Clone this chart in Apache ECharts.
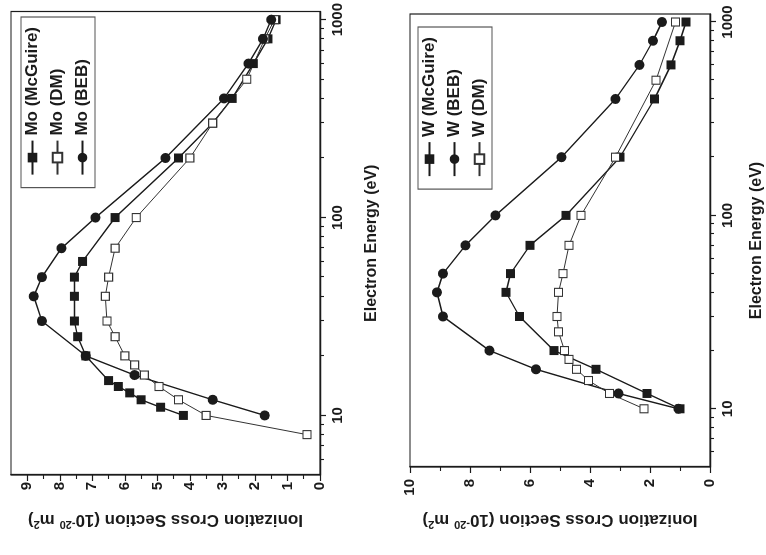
<!DOCTYPE html>
<html><head><meta charset="utf-8">
<script src="https://cdn.jsdelivr.net/npm/echarts@6/dist/echarts.min.js"></script>
<style>
html,body{margin:0;padding:0;width:766px;height:555px;overflow:hidden;background:#fff}
#chart{position:absolute;left:0;top:0;width:555px;height:766px;transform-origin:0 0;transform:translateY(555px) rotate(-90deg);}
</style></head><body><div id="chart"></div>
<script>
// ---- data (energies in eV, cross sections in 1e-20 m^2) ----
const moMcGuireE = [10,11,12,13,14,15,20,25,30,40,50,60,100,200,300,400,600,800,1000];
const moMcGuireV = [4.2,4.9,5.5,5.85,6.2,6.5,7.2,7.45,7.55,7.55,7.55,7.3,6.3,4.35,3.3,2.7,2.05,1.6,1.35];
const moDME = [8,10,12,14,16,18,20,25,30,40,50,70,100,200,300,500,800,1000];
const moDMV = [0.4,3.5,4.35,4.95,5.4,5.7,6.0,6.3,6.55,6.6,6.5,6.3,5.65,4.0,3.3,2.25,1.7,1.4];
const moBEBE = [10,12,16,20,30,40,50,70,100,200,400,600,800,1000];
const moBEBV = [1.7,3.3,5.7,7.2,8.55,8.8,8.55,7.95,6.9,4.75,2.95,2.2,1.75,1.5];

const wMcGuireE = [10,12,16,20,30,40,50,70,100,200,400,600,800,1000];
const wMcGuireV = [1.0,2.1,3.8,5.2,6.35,6.8,6.65,6.0,4.8,3.0,1.85,1.3,1.0,0.8];
const wBEBE = [10,12,16,20,30,40,50,70,100,200,400,600,800,1000];
const wBEBV = [1.05,3.05,5.8,7.35,8.9,9.1,8.9,8.15,7.15,4.95,3.15,2.35,1.9,1.6];
const wDME = [10,12,14,16,18,20,25,30,40,50,70,100,200,500,1000];
const wDMV = [2.2,3.35,4.05,4.45,4.7,4.85,5.05,5.1,5.05,4.9,4.7,4.3,3.15,1.8,1.15];

const energyMajorTicks = [10,100,1000];
const energyMinorTicks = [6,7,8,9,20,30,40,50,60,70,80,90,200,300,400,500,600,700,800,900];
const moYTicks = [0,1,2,3,4,5,6,7,8,9];
const moYMinor = [0.5,1.5,2.5,3.5,4.5,5.5,6.5,7.5,8.5];
const wYTicks = [0,2,4,6,8,10];
const wYMinor = [1,3,5,7,9];

const moNames = ['Mo (McGuire)','Mo (DM)','Mo (BEB)'];
const wNames = ['W (McGuire)','W (BEB)','W (DM)'];
const xName = 'Electron Energy (eV)';

// ---- style ----
const FONT = '"Liberation Sans", Arial, Helvetica, sans-serif';
const INK = '#1b1b1b';
const zip = (e, v) => e.map((x, i) => [x, v[i]]);

function xAxes(grid, gap) {
  return [{
    type: 'log', logBase: 10, gridIndex: grid, min: 5, max: 1100, position: 'bottom',
    name: xName, nameLocation: 'middle', nameGap: gap,
    nameTextStyle: {fontFamily: FONT, fontWeight: 'bold', fontSize: 16, color: INK},
    axisLine: {show: true, onZero: false, lineStyle: {color: INK, width: 1.3}},
    axisTick: {show: true, length: 6, customValues: energyMajorTicks, lineStyle: {color: INK, width: 1.2}},
    axisLabel: {show: true, customValues: energyMajorTicks, margin: 10, formatter: v => String(Math.round(v)),
      fontFamily: FONT, fontWeight: 'bold', fontSize: 15, color: INK},
    splitLine: {show: false}, minorTick: {show: false}
  }, {
    type: 'log', logBase: 10, gridIndex: grid, min: 5, max: 1100, position: 'bottom',
    axisLine: {show: false}, axisLabel: {show: false}, splitLine: {show: false},
    axisTick: {show: true, length: 4, customValues: energyMinorTicks, lineStyle: {color: INK, width: 1.1}}
  }];
}
function yAxes(grid, max, ticks, minor, gap, margin) {
  return [{
    type: 'value', gridIndex: grid, min: 0, max: max, position: 'left',
    name: '{a|Ionization Cross Section (10}{s|-20}{a| m}{s|2}{a|)}', nameLocation: 'middle', nameGap: gap,
    nameTextStyle: {rich: {
      a: {fontFamily: FONT, fontWeight: 'bold', fontSize: 17, color: INK, lineHeight: 20},
      s: {fontFamily: FONT, fontWeight: 'bold', fontSize: 11, color: INK, lineHeight: 12, verticalAlign: 'top'}
    }},
    axisLine: {show: true, onZero: false, lineStyle: {color: INK, width: 1.3}},
    axisTick: {show: true, length: 6, customValues: ticks, lineStyle: {color: INK, width: 1.2}},
    axisLabel: {show: true, customValues: ticks, margin: margin,
      fontFamily: FONT, fontWeight: 'bold', fontSize: 15, color: INK},
    splitLine: {show: false}
  }, {
    type: 'value', gridIndex: grid, min: 0, max: max, position: 'left',
    axisLine: {show: false, onZero: false}, axisLabel: {show: false}, splitLine: {show: false},
    axisTick: {show: true, length: 4, customValues: minor, lineStyle: {color: INK, width: 1.1}}
  }];
}

function lineSeries(name, e, v, xi, yi, kind) {
  const base = {
    name: name, type: 'line', xAxisIndex: xi, yAxisIndex: yi, data: zip(e, v),
    smooth: false, animation: false, z: 3
  };
  if (kind === 'fsq') {
    return Object.assign(base, {symbol: 'rect', symbolSize: 9,
      itemStyle: {color: INK, borderColor: INK, borderWidth: 0},
      lineStyle: {color: INK, width: 1.4}});
  }
  if (kind === 'circ') {
    return Object.assign(base, {symbol: 'circle', symbolSize: 10,
      itemStyle: {color: INK, borderColor: INK, borderWidth: 0},
      lineStyle: {color: INK, width: 1.4}});
  }
  return Object.assign(base, {symbol: 'rect', symbolSize: 8,
    itemStyle: {color: '#fff', borderColor: '#333', borderWidth: 1.1},
    lineStyle: {color: '#333', width: 1.0}});
}

function legend(names, top, right) {
  return {
    data: names, orient: 'vertical', top: top, right: right,
    borderColor: '#555', borderWidth: 1.2, padding: [3, 10, 4, 12],
    itemGap: 8, itemWidth: 34, itemHeight: 12, selectedMode: false,
    textStyle: {fontFamily: FONT, fontWeight: 'bold', fontSize: 17, color: INK}
  };
}

const option = {
  backgroundColor: '#fff',
  animation: false,
  grid: [
    {left: 80, top: 11, width: 467, height: 309, show: true, borderColor: INK, borderWidth: 1.2, backgroundColor: 'transparent'},
    {left: 88, top: 410, width: 453, height: 301, show: true, borderColor: INK, borderWidth: 1.2, backgroundColor: 'transparent'}
  ],
  legend: [legend(moNames, 21, 17), legend(wNames, 418, 27)],
  xAxis: [].concat(xAxes(0, 44), xAxes(1, 39)),
  yAxis: [].concat(yAxes(0, 9.5, moYTicks, moYMinor, 35, 7), yAxes(1, 10, wYTicks, wYMinor, 43, 12)),
  series: [
    lineSeries(moNames[0], moMcGuireE, moMcGuireV, 0, 0, 'fsq'),
    lineSeries(moNames[1], moDME, moDMV, 0, 0, 'osq'),
    lineSeries(moNames[2], moBEBE, moBEBV, 0, 0, 'circ'),
    lineSeries(wNames[0], wMcGuireE, wMcGuireV, 2, 2, 'fsq'),
    lineSeries(wNames[1], wBEBE, wBEBV, 2, 2, 'circ'),
    lineSeries(wNames[2], wDME, wDMV, 2, 2, 'osq')
  ]
};
const chart = echarts.init(document.getElementById('chart'), null, {renderer: 'canvas'});
chart.setOption(option);
</script></body></html>
